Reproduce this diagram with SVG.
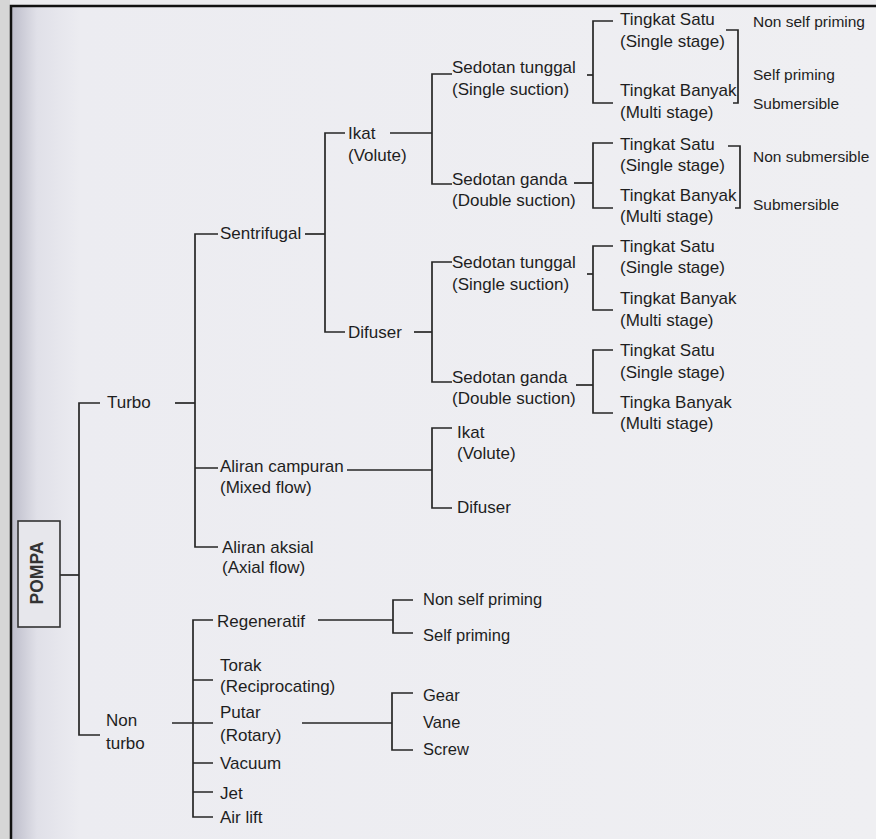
<svg xmlns="http://www.w3.org/2000/svg" width="876" height="839" viewBox="0 0 876 839">
<defs>
<linearGradient id="pg" x1="0" y1="0" x2="1" y2="0" gradientUnits="objectBoundingBox">
<stop offset="0" stop-color="#bdbdca"/>
<stop offset="0.03" stop-color="#e0e0e8"/>
<stop offset="0.08" stop-color="#ececf1"/>
<stop offset="1" stop-color="#efeff2"/>
</linearGradient>
<style>
.t{font-family:"Liberation Sans",Arial,Helvetica,sans-serif;font-size:17px;fill:#1e1e1e;dominant-baseline:central}
.s{font-size:15.5px}
.m{font-size:16.5px}
.l{fill:none;stroke:#262626;stroke-width:1.7}
</style>
</defs>
<rect x="0" y="0" width="876" height="839" fill="#d6d6d6"/>
<rect x="10" y="0" width="866" height="6" fill="#ececef"/>
<rect x="11" y="6" width="865" height="833" fill="url(#pg)"/>
<path d="M11 839 V6 H876" fill="none" stroke="#111" stroke-width="2.5"/>

<g id="connectors" class="l">
<path d="M60 575 H79"/>
<path d="M100 403 H79 V735 H100"/>
<path d="M175 403 H195"/>
<path d="M218 234 H195 V547 H218 M195 468 H218"/>
<path d="M305 234 H325"/>
<path d="M345 133 H325 V332 H345"/>
<path d="M390 133 H432"/>
<path d="M452 74 H432 V184 H452"/>
<path d="M587 75 H593"/>
<path d="M613 21 H593 V103 H613"/>
<path d="M726 30 H738 V103 H733"/>
<path d="M574 183 H593"/>
<path d="M613 143 H593 V208 H613"/>
<path d="M728 146 H740 V208 H735"/>
<path d="M414 332 H432"/>
<path d="M452 262 H432 V382 H452"/>
<path d="M587 274 H593"/>
<path d="M613 246 H593 V310 H613"/>
<path d="M576 385 H593"/>
<path d="M613 350 H593 V413 H613"/>
<path d="M347 470 H432"/>
<path d="M452 428 H432 V508 H452"/>
<path d="M172 723 H213"/>
<path d="M213 620 H193 V817 H213 M193 680 H213 M193 763 H213 M193 792 H213"/>
<path d="M318 620 H393"/>
<path d="M413 600 H393 V633 H413"/>
<path d="M302 723 H392"/>
<path d="M413 693 H392 V750 H413"/>
</g>

<g id="pompa">
<rect x="18" y="521" width="42" height="106" fill="#e7e7ec" stroke="#333" stroke-width="1.6"/>
<text class="t" x="0" y="0" transform="translate(37 573) rotate(-90)" text-anchor="middle" style="font-size:17.5px;font-weight:bold;fill:#333">POMPA</text>
</g>
<g id="turbo"><text class="t" x="107" y="402">Turbo</text></g>
<g id="nonturbo"><text class="t" x="106" y="720">Non</text><text class="t" x="106" y="743">turbo</text></g>

<g id="sentrifugal"><text class="t" x="220" y="233">Sentrifugal</text></g>
<g id="aliran-campuran"><text class="t" x="220" y="466">Aliran campuran</text><text class="t" x="220" y="487">(Mixed flow)</text></g>
<g id="aliran-aksial"><text class="t" x="222" y="547">Aliran aksial</text><text class="t" x="222" y="567">(Axial flow)</text></g>

<g id="ikat1"><text class="t" x="348" y="133">Ikat</text><text class="t" x="348" y="155">(Volute)</text></g>
<g id="difuser1"><text class="t" x="348" y="332">Difuser</text></g>

<g id="sedotan-tunggal1"><text class="t" x="452" y="67">Sedotan tunggal</text><text class="t" x="452" y="89">(Single suction)</text></g>
<g id="sedotan-ganda1"><text class="t" x="452" y="179">Sedotan ganda</text><text class="t" x="452" y="200">(Double suction)</text></g>
<g id="sedotan-tunggal2"><text class="t" x="452" y="262">Sedotan tunggal</text><text class="t" x="452" y="284">(Single suction)</text></g>
<g id="sedotan-ganda2"><text class="t" x="452" y="377">Sedotan ganda</text><text class="t" x="452" y="398">(Double suction)</text></g>
<g id="ikat2"><text class="t" x="457" y="432">Ikat</text><text class="t" x="457" y="453">(Volute)</text></g>
<g id="difuser2"><text class="t" x="457" y="507">Difuser</text></g>

<g id="tingkat-satu1"><text class="t" x="620" y="19">Tingkat Satu</text><text class="t" x="620" y="41">(Single stage)</text></g>
<g id="tingkat-banyak1"><text class="t" x="620" y="90">Tingkat Banyak</text><text class="t" x="620" y="112">(Multi stage)</text></g>
<g id="tingkat-satu2"><text class="t" x="620" y="144">Tingkat Satu</text><text class="t" x="620" y="165">(Single stage)</text></g>
<g id="tingkat-banyak2"><text class="t" x="620" y="195">Tingkat Banyak</text><text class="t" x="620" y="216">(Multi stage)</text></g>
<g id="tingkat-satu3"><text class="t" x="620" y="246">Tingkat Satu</text><text class="t" x="620" y="267">(Single stage)</text></g>
<g id="tingkat-banyak3"><text class="t" x="620" y="298">Tingkat Banyak</text><text class="t" x="620" y="320">(Multi stage)</text></g>
<g id="tingkat-satu4"><text class="t" x="620" y="350">Tingkat Satu</text><text class="t" x="620" y="372">(Single stage)</text></g>
<g id="tingka-banyak4"><text class="t" x="620" y="402">Tingka Banyak</text><text class="t" x="620" y="423">(Multi stage)</text></g>

<g id="non-self-priming1"><text class="t s" x="753" y="21">Non self priming</text></g>
<g id="self-priming1"><text class="t s" x="753" y="74">Self priming</text></g>
<g id="submersible1"><text class="t s" x="753" y="103">Submersible</text></g>
<g id="non-submersible"><text class="t s" x="753" y="156">Non submersible</text></g>
<g id="submersible2"><text class="t s" x="753" y="204">Submersible</text></g>

<g id="regeneratif"><text class="t" x="217" y="621">Regeneratif</text></g>
<g id="torak"><text class="t" x="220" y="665">Torak</text><text class="t" x="220" y="686">(Reciprocating)</text></g>
<g id="putar"><text class="t" x="220" y="712">Putar</text><text class="t" x="220" y="735">(Rotary)</text></g>
<g id="vacuum"><text class="t" x="220" y="763">Vacuum</text></g>
<g id="jet"><text class="t" x="220" y="793">Jet</text></g>
<g id="airlift"><text class="t" x="220" y="817">Air lift</text></g>

<g id="non-self-priming2"><text class="t m" x="423" y="599">Non self priming</text></g>
<g id="self-priming2"><text class="t m" x="423" y="635">Self priming</text></g>
<g id="gear"><text class="t m" x="423" y="695">Gear</text></g>
<g id="vane"><text class="t m" x="423" y="722">Vane</text></g>
<g id="screw"><text class="t m" x="423" y="749">Screw</text></g>
</svg>
